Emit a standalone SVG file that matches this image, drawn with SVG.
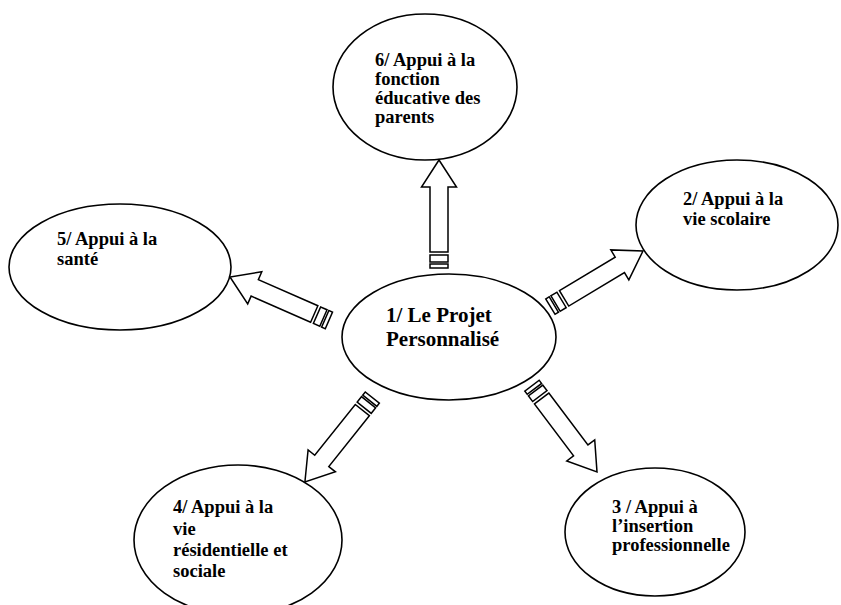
<svg xmlns="http://www.w3.org/2000/svg" width="841" height="605" viewBox="0 0 841 605">
  <defs>
    <style>
      .node ellipse { fill: #ffffff; stroke: #000000; stroke-width: 1.6; }
      .node text { font-family: "Liberation Serif", "Times New Roman", serif; font-weight: bold; font-size: 18.5px; fill: #000000; }
      #n1 text { font-size: 21px; }
      .arrow * { fill: #ffffff; stroke: #000000; stroke-width: 1.5; stroke-linejoin: miter; }
    </style>
    <!-- striped block arrow: tail at the origin, pointing along +x, length 108 -->
    <g id="striped-arrow" class="arrow">
      <rect x="0" y="-9" width="4" height="18"/>
      <rect x="6" y="-9" width="7" height="18"/>
      <polygon points="16,-9 81,-9 81,-17.5 108,0 81,17.5 81,9 16,9"/>
    </g>
  </defs>

  <rect width="841" height="605" fill="#ffffff"/>

  <!-- outer nodes -->
  <g id="n6" class="node">
    <ellipse cx="425" cy="87" rx="92" ry="73"/>
    <text x="375" y="66">6/ Appui à la</text>
    <text x="375" y="85">fonction</text>
    <text x="375" y="104">éducative des</text>
    <text x="375" y="123">parents</text>
  </g>

  <g id="n2" class="node">
    <ellipse cx="737" cy="225" rx="101" ry="65"/>
    <text x="683" y="205">2/ Appui à la</text>
    <text x="683" y="225">vie scolaire</text>
  </g>

  <g id="n5" class="node">
    <ellipse cx="120" cy="267" rx="111" ry="63"/>
    <text x="57" y="245">5/ Appui à la</text>
    <text x="57" y="265">santé</text>
  </g>

  <g id="n4" class="node">
    <ellipse cx="238" cy="540" rx="104" ry="75"/>
    <text x="173" y="513">4/ Appui à la</text>
    <text x="173" y="535">vie</text>
    <text x="173" y="556">résidentielle et</text>
    <text x="173" y="577">sociale</text>
  </g>

  <g id="n3" class="node">
    <ellipse cx="655" cy="532" rx="90" ry="64"/>
    <text x="612" y="513">3 / Appui à</text>
    <text x="612" y="532">l’insertion</text>
    <text x="612" y="551">professionnelle</text>
  </g>

  <!-- central node -->
  <g id="n1" class="node">
    <ellipse cx="449" cy="337" rx="107" ry="63"/>
    <text x="386" y="322">1/ Le Projet</text>
    <text x="386" y="346">Personnalisé</text>
  </g>

  <!-- connectors: striped arrows radiating from the centre -->
  <g id="connectors">
    <use href="#striped-arrow" transform="translate(439 268) rotate(-90)"/>
    <use href="#striped-arrow" transform="translate(550.4 306.6) rotate(-31)"/>
    <use href="#striped-arrow" transform="translate(328.9 320.4) rotate(203.7)"/>
    <use href="#striped-arrow" transform="translate(372.3 397.6) rotate(128.6)"/>
    <use href="#striped-arrow" transform="translate(532 385.7) rotate(53)"/>
  </g>
</svg>
